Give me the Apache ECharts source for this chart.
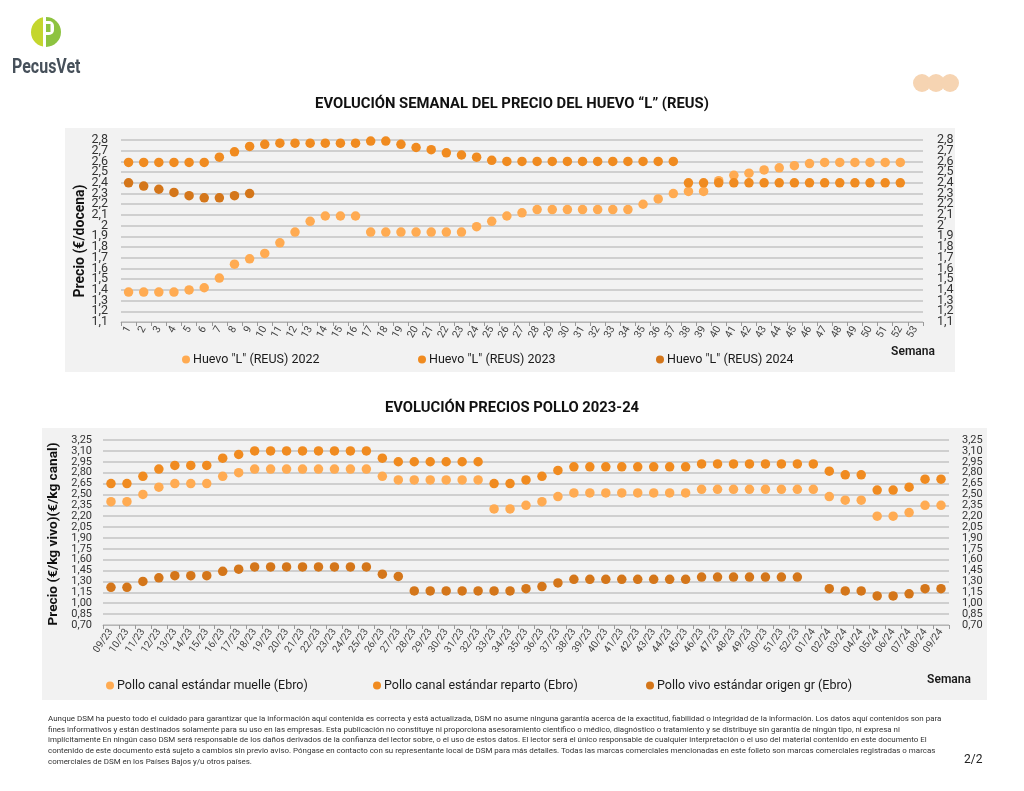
<!DOCTYPE html>
<html><head><meta charset="utf-8">
<script src="https://cdn.jsdelivr.net/npm/echarts@6/dist/echarts.min.js"></script>
<style>
html,body{margin:0;padding:0;background:#fff;}
#wrap{position:relative;width:1024px;height:791px;overflow:hidden;}
.panel{position:absolute;background:#f2f2f2;}
#c{position:absolute;left:0;top:0;width:1024px;height:791px;}
#foot{position:absolute;left:48px;top:714px;font:7.95px Roboto,sans-serif;color:#333;line-height:10.7px;white-space:nowrap;}
#page{position:absolute;left:964px;top:752px;font:12px Roboto,sans-serif;color:#222;}
#logo{position:absolute;left:12px;top:54px;width:68px;font:bold 20px Roboto,sans-serif;color:#46505a;white-space:nowrap;transform-origin:0 0;transform:scaleX(0.8);}
</style>
</head><body>
<div id="wrap">
<div class="panel" style="left:65px;top:128px;width:890px;height:244px;"></div>
<div class="panel" style="left:42px;top:428px;width:945px;height:272px;"></div>
<div id="c"></div>
<div id="logo">PecusVet</div>
<div id="foot">Aunque DSM ha puesto todo el cuidado para garantizar que la información aquí contenida es correcta y está actualizada, DSM no asume ninguna garantía acerca de la exactitud, fiabilidad o integridad de la información. Los datos aquí contenidos son para<br>fines informativos y están destinados solamente para su uso en las empresas. Esta publicación no constituye ni proporciona asesoramiento científico o médico, diagnóstico o tratamiento y se distribuye sin garantía de ningún tipo, ni expresa ni<br>implícitamente En ningún caso DSM será responsable de los daños derivados de la confianza del lector sobre, o el uso de estos datos. El lector será el único responsable de cualquier interpretación o el uso del material contenido en este documento El<br>contenido de este documento está sujeto a cambios sin previo aviso. Póngase en contacto con su representante local de DSM para más detalles. Todas las marcas comerciales mencionadas en este folleto son marcas comerciales registradas o marcas<br>comerciales de DSM en los Países Bajos y/u otros países.</div>
<div id="page">2/2</div>
</div>
<script>
// ---- Data: egg prices (€/dozen), weeks 1..53 ----
const eggWeeks = ['1','2','3','4','5','6','7','8','9','10','11','12','13','14','15','16','17','18','19','20','21','22','23','24','25','26','27','28','29','30','31','32','33','34','35','36','37','38','39','40','41','42','43','44','45','46','47','48','49','50','51','52','53'];
const eggTicks = ['1,1','1,2','1,3','1,4','1,5','1,6','1,7','1,8','1,9','2','2,1','2,2','2,3','2,4','2,5','2,6','2,7','2,8'];
const egg2022 = [1.38,1.38,1.38,1.38,1.40,1.42,1.51,1.64,1.69,1.74,
                 1.84,1.94,2.04,2.09,2.09,2.09,1.94,1.94,1.94,1.94,
                 1.94,1.94,1.94,1.99,2.04,2.09,2.12,2.15,2.15,2.15,
                 2.15,2.15,2.15,2.15,2.20,2.25,2.30,2.32,2.32,2.42,
                 2.47,2.49,2.52,2.54,2.56,2.58,2.59,2.59,2.59,2.59,
                 2.59,2.59];
const egg2023 = [2.59,2.59,2.59,2.59,2.59,2.59,2.64,2.69,2.74,2.76,
                 2.77,2.77,2.77,2.77,2.77,2.77,2.79,2.79,2.76,2.73,
                 2.71,2.68,2.66,2.64,2.61,2.60,2.60,2.60,2.60,2.60,
                 2.60,2.60,2.60,2.60,2.60,2.60,2.60,2.40,2.40,2.40,
                 2.40,2.40,2.40,2.40,2.40,2.40,2.40,2.40,2.40,2.40,
                 2.40,2.40];
const egg2024 = [2.40,2.37,2.34,2.31,2.28,2.26,2.26,2.28,2.30];
const eggNames = ['Huevo "L" (REUS) 2022','Huevo "L" (REUS) 2023','Huevo "L" (REUS) 2024'];

// ---- Data: chicken prices 2023-24 ----
const chickWeeks = ['09/23','10/23','11/23','12/23','13/23','14/23','15/23','16/23','17/23','18/23','19/23','20/23','21/23','22/23','23/23','24/23','25/23','26/23','27/23','28/23','29/23','30/23','31/23','32/23','33/23','34/23','35/23','36/23','37/23','38/23','39/23','40/23','41/23','42/23','43/23','44/23','45/23','46/23','47/23','48/23','49/23','50/23','51/23','52/23','01/24','02/24','03/24','04/24','05/24','06/24','07/24','08/24','09/24'];
const muelle = [2.40,2.40,2.50,2.60,2.65,2.65,2.65,2.75,2.80,
                2.85,2.85,2.85,2.85,2.85,2.85,2.85,2.85,
                2.75,2.70,2.70,2.70,2.70,2.70,2.70,
                2.30,2.30,2.35,2.40,2.47,
                2.52,2.52,2.52,2.52,2.52,2.52,2.52,2.52,
                2.57,2.57,2.57,2.57,2.57,2.57,2.57,
                2.57,2.47,2.42,2.42,2.20,2.20,2.25,2.35,2.35];
const reparto = [2.65,2.65,2.75,2.85,2.90,2.90,2.90,3.00,3.05,
                 3.10,3.10,3.10,3.10,3.10,3.10,3.10,3.10,
                 3.00,2.95,2.95,2.95,2.95,2.95,2.95,
                 2.65,2.65,2.70,2.75,2.83,
                 2.88,2.88,2.88,2.88,2.88,2.88,2.88,2.88,
                 2.92,2.92,2.92,2.92,2.92,2.92,2.92,
                 2.92,2.82,2.77,2.77,2.56,2.56,2.60,2.71,2.71];
const vivo = [1.22,1.22,1.30,1.35,1.38,1.38,1.38,1.44,1.47,
              1.50,1.50,1.50,1.50,1.50,1.50,1.50,1.50,
              1.40,1.37,1.17,1.17,1.17,1.17,1.17,
              1.17,1.17,1.20,1.23,1.28,
              1.33,1.33,1.33,1.33,1.33,1.33,1.33,1.33,
              1.36,1.36,1.36,1.36,1.36,1.36,1.36,
              null,1.20,1.17,1.17,1.10,1.10,1.13,1.20,1.20];
const chickNames = ['Pollo canal estándar muelle (Ebro)','Pollo canal estándar reparto (Ebro)','Pollo vivo estándar origen gr (Ebro)'];

const colLight = '#FFAB52', colMid = '#F08B20', colDark = '#D4761A';
const FONT = 'Roboto, sans-serif';

const chart = echarts.init(document.getElementById('c'), null, {width:1024, height:791});

function yFmt2(v){ return (Math.round(v*100)/100).toFixed(2).replace('.', ','); }

function yVal(grid, min, max, interval, pos, showLabels, fs, margin, split){
  return {type:'value', gridIndex:grid, min:min, max:max, interval:interval, position:pos,
    axisLine:{show:false}, axisTick:{show:false},
    splitLine:{show:split, lineStyle:{color:'#c3c3c3', width:1.5}},
    axisLabel:{show:showLabels, fontFamily:FONT, fontSize:fs, color:'#333', margin:margin, formatter:yFmt2,
      showMinLabel:true, showMaxLabel:true}};
}
// label-only axis carrying the tick labels of the egg chart
function yLab(grid, data, pos, margin){
  return {type:'category', gridIndex:grid, data:data, boundaryGap:false, position:pos,
    axisLine:{show:false}, axisTick:{show:false}, splitLine:{show:false},
    axisLabel:{interval:0, fontFamily:FONT, fontSize:12.5, color:'#333', margin:margin}};
}
function xAx(grid, data, rot, fs){
  return {type:'category', gridIndex:grid, data:data, boundaryGap:true,
    axisLine:{show:true, lineStyle:{color:'#b5b5b5', width:1}},
    axisTick:{show:true, length:4, lineStyle:{color:'#999'}},
    axisLabel:{interval:0, rotate:rot, fontFamily:FONT, fontSize:fs, color:'#444', margin:5},
    splitLine:{show:false}};
}
function legendAt(name, left, top){
  return {data:[name], left:left, top:top, icon:'circle', itemWidth:8, itemHeight:8, itemGap:4,
    textStyle:{fontFamily:FONT, fontSize:12.5, color:'#1a1a1a', padding:[0,0,0,-2]}, selectedMode:false};
}
function sc(name, data, color, xi, yi){
  return {type:'scatter', name:name, data:data, xAxisIndex:xi, yAxisIndex:yi, symbolSize:9.5,
    itemStyle:{color:color, opacity:1}, emphasis:{disabled:true}};
}

const option = {
  backgroundColor:'transparent',
  animation:false,
  title:[
    {text:'EVOLUCIÓN SEMANAL DEL PRECIO DEL HUEVO “L” (REUS)', left:'center', top:92,
      textStyle:{fontFamily:FONT, fontSize:14.8, fontWeight:'bold', color:'#111'}},
    {text:'EVOLUCIÓN PRECIOS POLLO 2023-24', left:'center', top:396,
      textStyle:{fontFamily:FONT, fontSize:14.8, fontWeight:'bold', color:'#111'}}
  ],
  grid:[
    {left:121, top:140, width:802, height:182},
    {left:103, top:440, width:846, height:185}
  ],
  xAxis:[ xAx(0, eggWeeks, 60, 10.5), xAx(1, chickWeeks, 55, 10) ],
  yAxis:[
    yVal(0, 1.1, 2.8, 0.1, 'left', false, 12.5, 13, true),
    yLab(0, eggTicks, 'left', 13),
    yLab(0, eggTicks, 'right', 14),
    yVal(1, 0.7, 3.25, 0.15, 'left', true, 11, 11, true),
    yVal(1, 0.7, 3.25, 0.15, 'right', true, 11, 13, false)
  ],
  legend:[
    legendAt(eggNames[0], 177, 348), legendAt(eggNames[1], 413, 348), legendAt(eggNames[2], 651, 348),
    legendAt(chickNames[0], 101, 674), legendAt(chickNames[1], 368, 674), legendAt(chickNames[2], 641, 674)
  ],
  series:[
    sc(eggNames[0], egg2022, colLight, 0, 0),
    sc(eggNames[1], egg2023, colMid, 0, 0),
    sc(eggNames[2], egg2024, colDark, 0, 0),
    sc(chickNames[0], muelle, colLight, 1, 3),
    sc(chickNames[1], reparto, colMid, 1, 3),
    sc(chickNames[2], vivo, colDark, 1, 3)
  ],
  graphic:[
    {type:'text', x:80, y:241, rotation:Math.PI/2,
      style:{text:'Precio (€/docena)', font:'bold 14px '+FONT, fill:'#111', align:'center', verticalAlign:'middle'}},
    {type:'text', x:54, y:534, rotation:Math.PI/2,
      style:{text:'Precio (€/kg vivo)(€/kg canal)', font:'bold 13.7px '+FONT, fill:'#111', align:'center', verticalAlign:'middle'}},
    {type:'text', x:913, y:352,
      style:{text:'Semana', font:'600 12px '+FONT, fill:'#1a1a1a', align:'center', verticalAlign:'middle'}},
    {type:'text', x:949, y:680,
      style:{text:'Semana', font:'600 12px '+FONT, fill:'#1a1a1a', align:'center', verticalAlign:'middle'}},
    // logo mark
    {type:'sector', shape:{cx:46, cy:32, r:15, startAngle:Math.PI/2, endAngle:Math.PI*1.5}, style:{fill:'#C4D62E'}},
    {type:'sector', shape:{cx:46, cy:32, r:15, startAngle:-Math.PI/2, endAngle:Math.PI/2}, style:{fill:'#8DC340'}},
    {type:'rect', shape:{x:43, y:16, width:3, height:32}, style:{fill:'#fff'}},
    {type:'rect', shape:{x:46, y:21, width:8, height:14, r:[0,5,5,0]}, style:{fill:'#fff'}},
    {type:'rect', shape:{x:46, y:24, width:4.5, height:8}, style:{fill:'#8DC340'}},
    // decorative circles
    {type:'circle', shape:{cx:922, cy:83, r:9}, style:{fill:'#F6D4B2'}},
    {type:'circle', shape:{cx:936, cy:83, r:9}, style:{fill:'#F6D4B2'}},
    {type:'circle', shape:{cx:950, cy:83, r:9}, style:{fill:'#F6D4B2'}}
  ]
};
chart.setOption(option);
</script>
</body></html>
